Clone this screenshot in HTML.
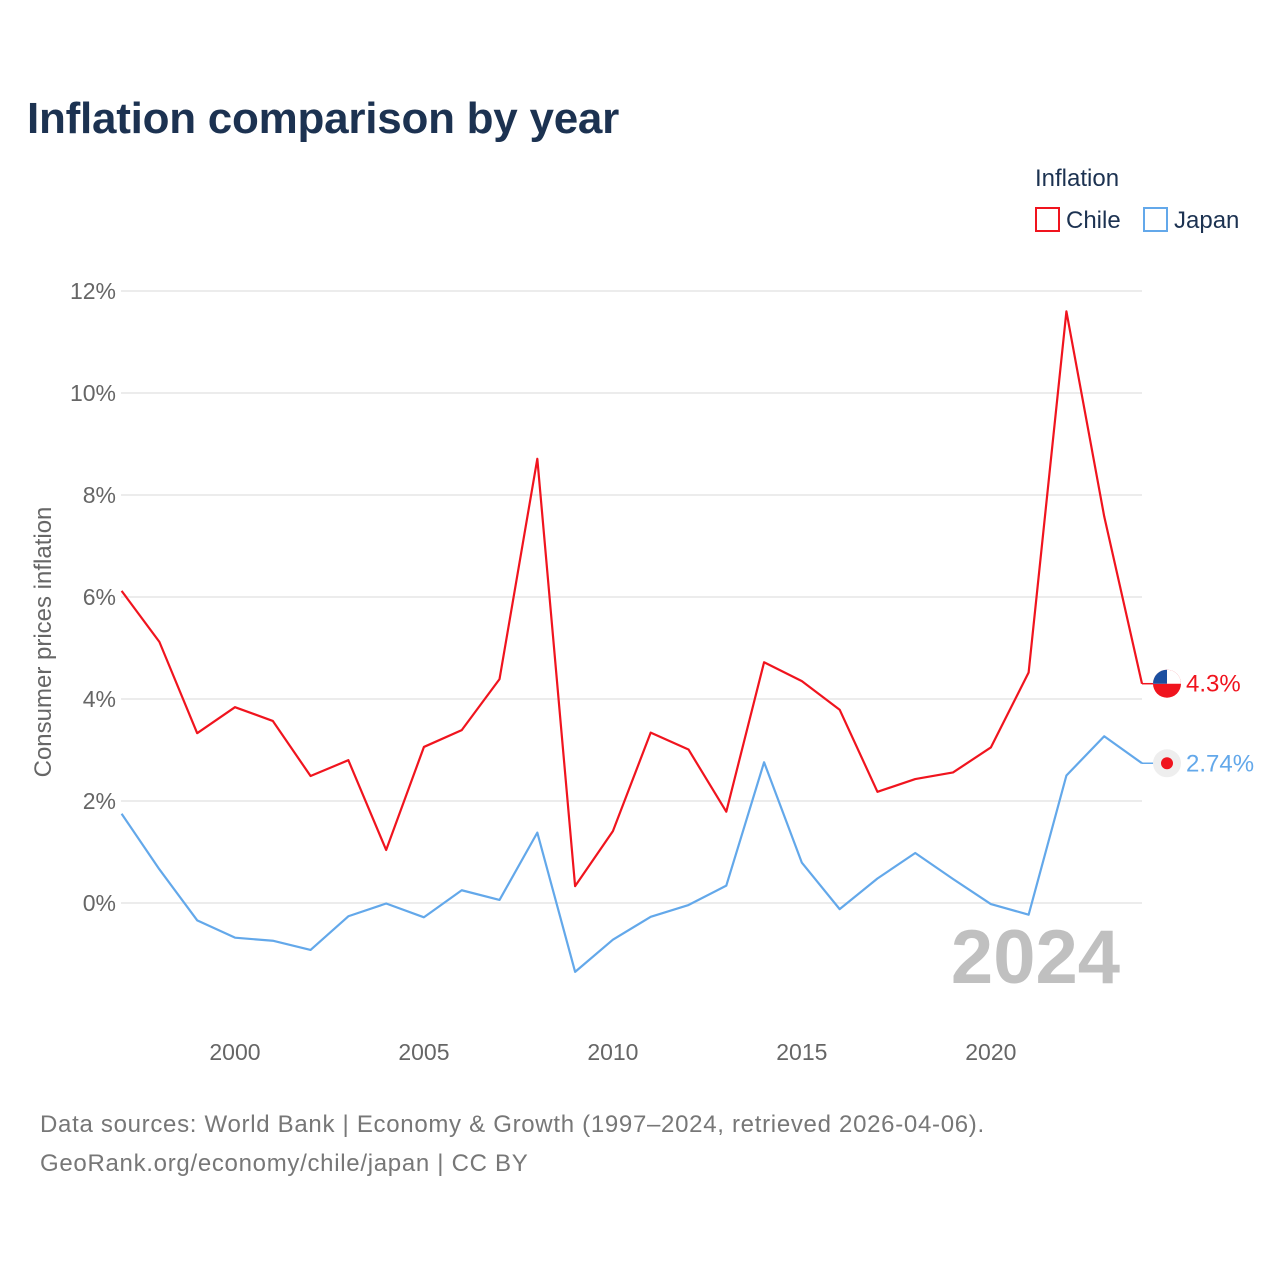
<!DOCTYPE html>
<html><head><meta charset="utf-8"><style>
body{margin:0;background:#fff;}
svg{display:block;font-family:"Liberation Sans",sans-serif;}
</style></head><body>
<svg id="chart" width="1280" height="1280" viewBox="0 0 1280 1280">
<rect width="1280" height="1280" fill="#fff"/>
<text x="27" y="133" font-size="44" font-weight="bold" fill="#1c3251" letter-spacing="-0.25">Inflation comparison by year</text>
<text x="1035" y="186" font-size="24" fill="#1c3251">Inflation</text>
<g><rect x="1036" y="208" width="23" height="23" fill="none" stroke="#f0141e" stroke-width="2"/><text x="1066" y="228" font-size="24" fill="#1c3251">Chile</text></g>
<g><rect x="1144" y="208" width="23" height="23" fill="none" stroke="#63a8ea" stroke-width="2"/><text x="1174" y="228" font-size="24" fill="#1c3251">Japan</text></g>
<g id="grid"></g><g id="yt"></g><g id="xt"></g>
<text transform="translate(51,642) rotate(-90)" text-anchor="middle" font-size="24" fill="#666">Consumer prices inflation</text>
<text x="1120" y="983" text-anchor="end" font-size="76" font-weight="bold" fill="#c0c0c0">2024</text>
<g id="lines"></g>
<text x="40" y="1132" font-size="24" fill="#777" letter-spacing="0.7">Data sources: World Bank | Economy &amp; Growth (1997–2024, retrieved 2026-04-06).</text>
<text x="40" y="1171" font-size="24" fill="#777" letter-spacing="0.7">GeoRank.org/economy/chile/japan | CC BY</text>
</svg>
<script>
const years=[1997,1998,1999,2000,2001,2002,2003,2004,2005,2006,2007,2008,2009,2010,2011,2012,2013,2014,2015,2016,2017,2018,2019,2020,2021,2022,2023,2024];
const chile=[6.12,5.12,3.33,3.84,3.57,2.49,2.80,1.04,3.06,3.39,4.39,8.71,0.33,1.41,3.34,3.01,1.79,4.72,4.35,3.79,2.18,2.43,2.56,3.05,4.52,11.6,7.58,4.30];
const japan=[1.75,0.66,-0.34,-0.68,-0.74,-0.92,-0.26,-0.01,-0.28,0.25,0.06,1.38,-1.35,-0.72,-0.27,-0.04,0.34,2.76,0.79,-0.12,0.48,0.98,0.47,-0.02,-0.23,2.50,3.27,2.74];
const yTicks=[0,2,4,6,8,10,12];
const xTicks=[2000,2005,2010,2015,2020];
const NS="http://www.w3.org/2000/svg";
const X=y=>121.6+(y-1997)*(1142-121.6)/27;
const Y=v=>903-v*51;
function mk(t,a,p){const e=document.createElementNS(NS,t);for(const k in a)e.setAttribute(k,a[k]);p.appendChild(e);return e;}
const grid=document.getElementById('grid'),yt=document.getElementById('yt'),xt=document.getElementById('xt'),lines=document.getElementById('lines');
yTicks.forEach(v=>{
const l=mk('line',{x1:121,x2:1142,y1:Y(v),y2:Y(v),stroke:'#e6e6e6','stroke-width':1.5},grid);


const t=mk('text',{x:116,y:Y(v)+8,'text-anchor':'end','font-size':23,fill:'#666'},yt);t.textContent=v+'%';


});
xTicks.forEach(v=>{
const t=mk('text',{x:X(v),y:1060,'text-anchor':'middle','font-size':23,fill:'#666'},xt);t.textContent=v;


});
function series(d,c,name,lbl){
const pts=d.map((v,i)=>X(years[i])+','+Y(v)).join(' ');
const p=mk('polyline',{points:pts,fill:'none',stroke:c,'stroke-width':2.2,'stroke-linejoin':'round'},lines);


const last=d[d.length-1],ly=Y(last);
mk('line',{x1:1142,x2:1156,y1:ly,y2:ly,stroke:c,'stroke-width':1.5},lines);
const g=mk('g',{},lines);


if(name==='chile'){
mk('circle',{cx:1167,cy:ly,r:14,fill:'#f0141e'},g);
mk('path',{d:`M1153 ${ly} A14 14 0 0 1 1181 ${ly} Z`,fill:'#fff'},g);
mk('path',{d:`M1153 ${ly} A14 14 0 0 1 1167 ${ly-14} L1167 ${ly} Z`,fill:'#1b4fa0'},g);
}else{
mk('circle',{cx:1167,cy:ly,r:14,fill:'#eee'},g);
mk('circle',{cx:1167,cy:ly,r:6,fill:'#f0141e'},g);
}
const t=mk('text',{x:1186,y:ly+8,'font-size':24,fill:c},lines);t.textContent=lbl;


}
series(chile,'#f0141e','chile',chile[chile.length-1]+'%');
series(japan,'#63a8ea','japan',japan[japan.length-1]+'%');
</script>
</body></html>
